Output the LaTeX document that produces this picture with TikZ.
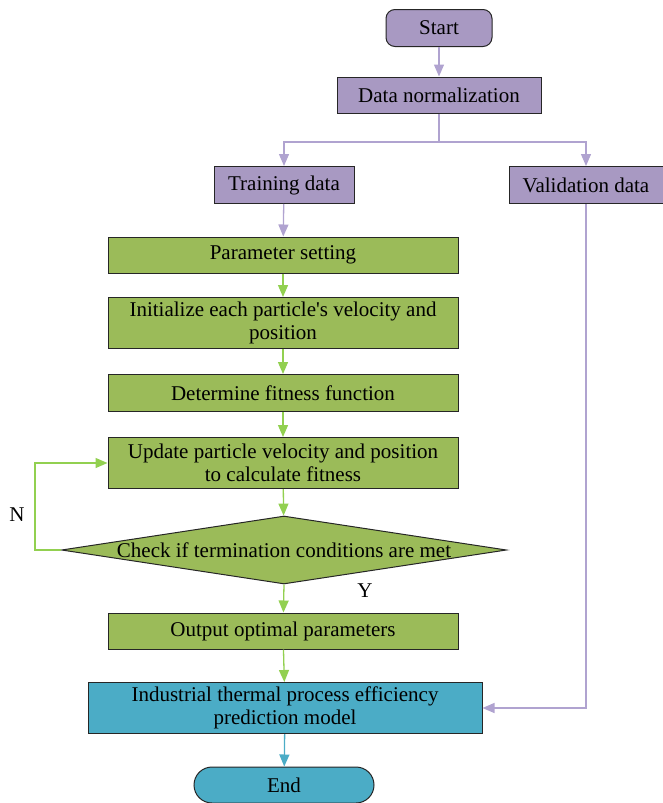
\documentclass[tikz,border=0pt]{standalone}
\usepackage{fontspec}
\setmainfont{Liberation Serif}
\newfontfamily\plainserif{Liberation Serif}[Ligatures=Common]
\usetikzlibrary{arrows.meta,shapes.geometric,shapes.misc}
\definecolor{pfill}{HTML}{A899C2}
\definecolor{gfill}{HTML}{9BBB59}
\definecolor{bfill}{HTML}{4BACC6}
\definecolor{pline}{HTML}{B0A3D0}
\definecolor{gline}{HTML}{92D050}
\definecolor{bline}{HTML}{4BACC6}
\begin{document}
\begin{tikzpicture}[x=1pt,y=-1pt,
  font=\fontsize{21pt}{23pt}\selectfont,
  box/.style={draw=black!85,line width=1pt,rectangle,inner sep=0pt,align=center},
  pbox/.style={box,fill=pfill},
  gbox/.style={box,fill=gfill},
  bbox/.style={box,fill=bfill},
  arr/.style={line width=1.3pt,-{Triangle[width=10pt,length=12pt]}},
  parr/.style={arr,draw=pline},
  garr/.style={arr,draw=gline},
  barr/.style={arr,draw=bline},
  lab/.style={inner sep=0pt}
]
\useasboundingbox (0,0) rectangle (662,803);
\node[pbox,rounded corners=9pt,minimum width=106pt,minimum height=37pt] (start) at (439,28) {Start};
\node[pbox,minimum width=204pt,minimum height=36pt] (norm) at (439,95) {Data normalization};
\node[pbox,minimum width=140pt,minimum height=37pt] (train) at (284,185) {Training data};
\node[pbox,minimum width=154pt,minimum height=37pt] (valid) at (586,185) {Validation data};
\node[gbox,minimum width=350pt,minimum height=36pt] (param) at (283,255) {Parameter setting};
\node[gbox,minimum width=350pt,minimum height=51pt] (init) at (283,323) {{\plainserif Initialize each particle's velocity and}\\position};
\node[gbox,minimum width=350pt,minimum height=37pt] (fit) at (283,393) {Determine fitness function};
\node[gbox,minimum width=350pt,minimum height=51pt] (upd) at (283,463) {Update particle velocity and position\\to calculate fitness};
\node[diamond,draw=black!85,line width=1pt,fill=gfill,inner sep=0pt,minimum width=445pt,minimum height=68pt] (dia) at (284,550) {};
\node[lab] (diatext) at (dia.center) {Check if termination conditions are met};
\node[gbox,minimum width=350pt,minimum height=36pt] (out) at (283,631) {Output optimal parameters};
\node[bbox,minimum width=394pt,minimum height=51pt] (ind) at (285,708) {Industrial thermal process efficiency\\prediction model};
\node[bbox,rounded rectangle,minimum width=180pt,minimum height=36pt] (end) at (284,785) {End};
\node[lab] (nlab) at (17,515) {N};
\node[lab] (ylab) at (365,591) {Y};
\coordinate (split) at (439,142);
\coordinate (loop) at (35,550);
\draw[parr] (start) -- (norm);
\draw[line width=1.3pt,draw=pline] (norm.south) -- (split);
\draw[parr] (split) -| (train.north);
\draw[parr] (split) -| (valid.north);
\draw[parr] (train) -- (param);
\draw[garr] (param) -- (init);
\draw[garr] (init) -- (fit);
\draw[garr] (fit) -- (upd);
\draw[garr] (upd) -- (dia);
\draw[garr] (dia.west) -- (loop) |- (upd.west);
\draw[garr] (dia.south) -- (out);
\draw[garr] (out) -- (ind);
\draw[parr] (valid.south) |- (ind.east);
\draw[barr] (ind) -- (end);
\end{tikzpicture}
\end{document}
